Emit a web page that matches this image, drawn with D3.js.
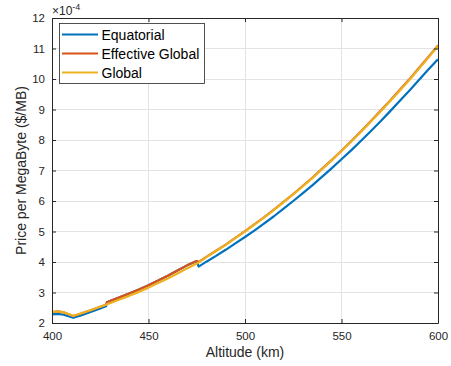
<!DOCTYPE html>
<html><head><meta charset="utf-8">
<script src="https://cdn.jsdelivr.net/npm/d3@7"></script>
<style>
body{margin:0;background:#fff;}
svg{display:block;font-family:"Liberation Sans",Arial,Helvetica,sans-serif;}
</style></head><body>
<svg id="c" width="451" height="366"></svg>
<script>
// Altitude (km) sample points (duplicates mark discontinuities)
const altitude = [400,403,406,411,415,420,425,428,428.5,430,435,440,445,450,455,460,465,470,475,476,480,485,490,495,500,505,510,515,520,525,530,535,540,545,550,555,560,565,570,575,580,585,590,595,600];
// Price per MegaByte (x 1e-4 $/MB)
const equatorial = [2.28,2.30,2.27,2.17,2.25,2.36,2.48,2.55,2.68,2.72,2.84,2.97,3.10,3.24,3.39,3.55,3.72,3.89,4.03,3.85,4.01,4.20,4.40,4.61,4.82,5.04,5.27,5.50,5.75,6.00,6.26,6.52,6.80,7.08,7.37,7.66,7.97,8.28,8.60,8.93,9.27,9.61,9.96,10.31,10.65];
const effectiveGlobal = [2.36,2.38,2.35,2.23,2.31,2.42,2.53,2.60,2.68,2.72,2.84,2.97,3.10,3.24,3.39,3.55,3.72,3.89,4.03,4.00,4.17,4.37,4.57,4.79,5.01,5.24,5.47,5.72,5.97,6.23,6.50,6.77,7.06,7.35,7.65,7.96,8.28,8.61,8.94,9.28,9.63,9.98,10.35,10.72,11.10];
const global = [2.36,2.38,2.35,2.23,2.31,2.42,2.53,2.60,2.62,2.65,2.77,2.89,3.02,3.16,3.31,3.46,3.62,3.79,3.95,3.99,4.16,4.36,4.56,4.78,5.00,5.23,5.46,5.71,5.96,6.22,6.49,6.76,7.05,7.34,7.64,7.95,8.26,8.59,8.92,9.26,9.61,9.96,10.33,10.70,11.08];
const seriesNames = ["Equatorial","Effective Global","Global"];
const xTicks = [400,450,500,550,600];
const yTicks = [2,3,4,5,6,7,8,9,10,11,12];

const colors = ["#0072BD","#D95319","#EDB120"];
const svg = d3.select("#c");
const L=52, T=18, R=438, B=323;
const x = d3.scaleLinear().domain([400,600]).range([L,R]);
const y = d3.scaleLinear().domain([2,12]).range([B,T]);
const axisColor = "#262626";

// grid
const g = svg.append("g");
g.selectAll(".gx").data(xTicks).join("line")
  .attr("x1",d=>x(d)).attr("x2",d=>x(d)).attr("y1",T).attr("y2",B)
  .attr("stroke","#e3e3e3").attr("stroke-width",1).attr("shape-rendering","crispEdges");
g.selectAll(".gy").data(yTicks).join("line")
  .attr("y1",d=>y(d)).attr("y2",d=>y(d)).attr("x1",L).attr("x2",R)
  .attr("stroke","#e3e3e3").attr("stroke-width",1).attr("shape-rendering","crispEdges");

// lines
const series = [equatorial, effectiveGlobal, global];
const line = d3.line().x(d=>x(d[0])).y(d=>y(d[1]));
series.forEach((s,i)=>{
  svg.append("path").datum(altitude.map((a,j)=>[a,s[j]]))
    .attr("d",line).attr("fill","none").attr("stroke",colors[i])
    .attr("stroke-width",2.2).attr("stroke-linejoin","round");
});

// axes (box with inward ticks)
const axB = d3.axisBottom(x).tickValues(xTicks).tickSizeInner(-4).tickSizeOuter(0).tickPadding(9);
const axT = d3.axisTop(x).tickValues(xTicks).tickSizeInner(-4).tickSizeOuter(0).tickFormat("");
const axLf = d3.axisLeft(y).tickValues(yTicks).tickSizeInner(-4).tickSizeOuter(0).tickPadding(7);
const axRt = d3.axisRight(y).tickValues(yTicks).tickSizeInner(-4).tickSizeOuter(0).tickFormat("");
function style(sel){
  sel.selectAll("path").attr("stroke",axisColor);
  sel.selectAll("line").attr("stroke",axisColor);
  sel.selectAll("text").attr("fill",axisColor).style("font-size","11.5px").style("font-family","'Liberation Sans',Arial,sans-serif");
  sel.attr("font-family",null).attr("font-size",null);
}
style(svg.append("g").attr("transform",`translate(0,${B})`).call(axB));
style(svg.append("g").attr("transform",`translate(0,${T})`).call(axT));
style(svg.append("g").attr("transform",`translate(${L},0)`).call(axLf));
style(svg.append("g").attr("transform",`translate(${R},0)`).call(axRt));

// exponent
const ex = svg.append("text").attr("x",L).attr("y",15).attr("fill",axisColor).style("font-size","12px");
ex.append("tspan").text("\u00d710");
ex.append("tspan").attr("dy",-5).style("font-size","9px").text("-4");

// axis labels
svg.append("text").attr("x",(L+R)/2).attr("y",357).attr("text-anchor","middle")
  .attr("fill",axisColor).style("font-size","14px").text("Altitude (km)");
svg.append("text").attr("transform",`translate(26,${(T+B)/2}) rotate(-90)`).attr("text-anchor","middle")
  .attr("fill",axisColor).style("font-size","14px").text("Price per MegaByte ($/MB)");

// legend
const lg = svg.append("g");
lg.append("rect").attr("x",59.5).attr("y",23.5).attr("width",145).attr("height",60)
  .attr("fill","#fff").attr("stroke",axisColor).attr("stroke-width",0.8);
seriesNames.forEach((n,i)=>{
  const cy = 34.5 + i*19;
  lg.append("line").attr("x1",62).attr("x2",98).attr("y1",cy).attr("y2",cy)
    .attr("stroke",colors[i]).attr("stroke-width",2.2);
  lg.append("text").attr("x",101.5).attr("y",cy+5).attr("fill","#000").style("font-size","14px").text(n);
});
</script>
</body></html>
